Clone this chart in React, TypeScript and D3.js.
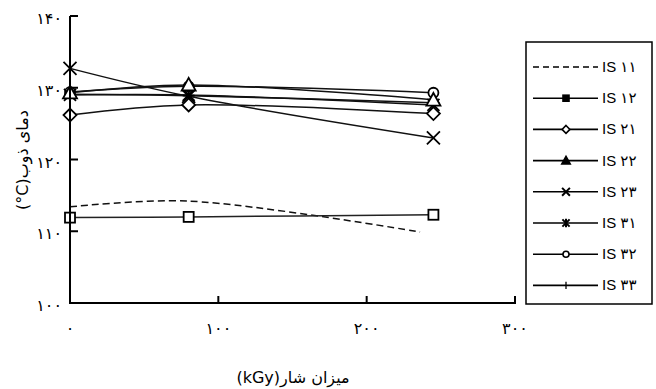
import React from "react";
import * as d3 from "d3";

const xDomain = [0, 300];
const yDomain = [100, 140];
const xTicks = [0, 100, 200, 300];
const xTickLabels = ["۰", "۱۰۰", "۲۰۰", "۳۰۰"];
const yTicks = [100, 110, 120, 130, 140];
const yTickLabels = ["۱۰۰", "۱۱۰", "۱۲۰", "۱۳۰", "۱۴۰"];

const seriesNames = ["IS ۱۱", "IS ۱۲", "IS ۲۱", "IS ۲۲", "IS ۲۳", "IS ۳۱", "IS ۳۲", "IS ۳۳"];
const seriesMarkers = ["none", "square", "diamond", "triangle", "x", "asterisk", "circle", "plus"];

const doseIS11 = [0, 80, 236];
const doseOthers = [0, 80, 245];

const is11 = [113.4, 114.2, 109.9];
const is12 = [111.9, 112.0, 112.3];
const is21 = [126.2, 127.6, 126.4];
const is22 = [129.3, 130.4, 128.3];
const is23 = [132.7, 128.8, 123.0];
const is31 = [129.0, 129.0, 127.6];
const is32 = [129.4, 130.2, 129.3];
const is33 = [129.1, 128.9, 127.9];

const seriesValues = [is11, is12, is21, is22, is23, is31, is32, is33];

const W = 656;
const H = 389;

const x = d3.scaleLinear().domain(xDomain).range([70, 515]);
const y = d3.scaleLinear().domain(yDomain).range([303, 16]);

const FA = "'DejaVu Sans', 'Noto Sans', sans-serif";
const LAT = "'Liberation Sans', Arial, 'DejaVu Sans', sans-serif";
const LRM = "\u200E";

function Marker({ type, cx, cy, small }: { type: string; cx: number; cy: number; small?: boolean }) {
  const k = small ? 0.6 : 1;
  const sw = small ? 1.6 : 1.8;
  switch (type) {
    case "square": {
      const s = 5 * k;
      return <rect x={cx - s} y={cy - s} width={2 * s} height={2 * s} fill={small ? "#000" : "#fff"} stroke="#000" strokeWidth={sw} />;
    }
    case "diamond": {
      const s = 6.5 * k;
      return <path d={`M${cx},${cy - s}L${cx + s},${cy}L${cx},${cy + s}L${cx - s},${cy}Z`} fill="#fff" stroke="#000" strokeWidth={sw} />;
    }
    case "triangle": {
      const s = 7 * k;
      return <path d={`M${cx},${cy - s}L${cx + s},${cy + s * 0.8}L${cx - s},${cy + s * 0.8}Z`} fill={small ? "#000" : "#fff"} stroke="#000" strokeWidth={sw} />;
    }
    case "x": {
      const s = 6.5 * k;
      return <path d={`M${cx - s},${cy - s}L${cx + s},${cy + s}M${cx - s},${cy + s}L${cx + s},${cy - s}`} stroke="#000" strokeWidth={small ? 2 : 1.8} fill="none" />;
    }
    case "asterisk": {
      const s = 6 * k;
      return <path d={`M${cx - s},${cy - s}L${cx + s},${cy + s}M${cx - s},${cy + s}L${cx + s},${cy - s}M${cx},${cy - s * 1.2}L${cx},${cy + s * 1.2}`} stroke="#000" strokeWidth={small ? 2 : 1.8} fill="none" />;
    }
    case "circle": {
      const r = 5 * k;
      return <circle cx={cx} cy={cy} r={r} fill="#fff" stroke="#000" strokeWidth={sw} />;
    }
    case "plus": {
      const s = 6 * k;
      return small ? (
        <path d={`M${cx},${cy - s}L${cx},${cy + s}`} stroke="#000" strokeWidth={1.3} />
      ) : (
        <path d={`M${cx},${cy - s}L${cx},${cy + s}M${cx - s},${cy}L${cx + s},${cy}`} stroke="#000" strokeWidth={1.6} />
      );
    }
    default:
      return null;
  }
}

export default function App() {
  const line = d3
    .line<[number, number]>()
    .x((d) => x(d[0]))
    .y((d) => y(d[1]))
    .curve(d3.curveCatmullRom.alpha(0.5));

  const legendRowY = (i: number) => 67 + i * 31.2;
  const order = seriesValues.map((_, i) => i).reverse();

  return (
    <svg width={W} height={H} style={{ position: "absolute", left: 0, top: 0, background: "#fff" }}>
      <rect x={0} y={0} width={W} height={H} fill="#fff" />
      {/* series lines */}
      {seriesValues.map((vals, i) => {
        const doses = i === 0 ? doseIS11 : doseOthers;
        const pts = vals.map((v, j) => [doses[j], v] as [number, number]);
        return (
          <path
            key={"l" + i}
            d={line(pts) || ""}
            fill="none"
            stroke={i === 1 ? "#222" : "#111"}
            strokeWidth={1.5}
            strokeDasharray={i === 0 ? "7,4" : undefined}
          />
        );
      })}
      {/* markers */}
      {order.map((i) => {
        const vals = seriesValues[i];
        const doses = i === 0 ? doseIS11 : doseOthers;
        return vals.map((v, j) => (
          <Marker key={"m" + i + "-" + j} type={seriesMarkers[i]} cx={x(doses[j])} cy={y(v)} />
        ));
      })}
      {/* axes */}
      <line x1={x(0)} x2={x(0)} y1={y(140)} y2={y(100)} stroke="#000" strokeWidth={2} />
      <line x1={x(0) - 1} x2={x(300) + 1} y1={y(100)} y2={y(100)} stroke="#000" strokeWidth={2} />
      {yTicks.map((t, i) => (
        <g key={"yt" + i}>
          {t !== 100 && <line x1={x(0)} x2={x(0) + 8} y1={y(t)} y2={y(t)} stroke="#000" strokeWidth={2} />}
          <text x={62} y={y(t) + 8} textAnchor="end" fontFamily={FA} fontSize={16} fill="#000">
            {yTickLabels[i]}
          </text>
        </g>
      ))}
      {xTicks.map((t, i) => (
        <g key={"xt" + i}>
          {t !== 0 && <line x1={x(t)} x2={x(t)} y1={y(100)} y2={y(100) - 7} stroke="#000" strokeWidth={2} />}
          <text x={x(t)} y={334} textAnchor="middle" fontFamily={FA} fontSize={16} fill="#000">
            {xTickLabels[i]}
          </text>
        </g>
      ))}
      {/* axis titles */}
      <text
        transform="translate(28,160) rotate(-90)"
        textAnchor="middle"
        direction="rtl"
        style={{ direction: "rtl", unicodeBidi: "embed" } as any}
        fontFamily={FA}
        fontSize={16}
        fill="#000"
      >
        {"دمای ذوب" + LRM + "(°C)" + LRM}
      </text>
      <text
        x={293}
        y={383}
        textAnchor="middle"
        direction="rtl"
        style={{ direction: "rtl", unicodeBidi: "embed" } as any}
        fontFamily={FA}
        fontSize={16}
        fill="#000"
      >
        {"میزان شار" + LRM + "(kGy)" + LRM}
      </text>
      {/* legend */}
      <rect x={526} y={42} width={126} height={262} fill="#fff" stroke="#000" strokeWidth={1.5} />
      {seriesNames.map((name, i) => {
        const ly = legendRowY(i);
        return (
          <g key={"lg" + i}>
            <line x1={533} x2={598} y1={ly} y2={ly} stroke="#000" strokeWidth={1.6} strokeDasharray={i === 0 ? "6,4" : undefined} />
            <Marker type={seriesMarkers[i]} cx={566} cy={ly} small />
            <text x={602} y={ly + 5} fontFamily={LAT} fontSize={15} fill="#000">
              {name}
            </text>
          </g>
        );
      })}
    </svg>
  );
}
